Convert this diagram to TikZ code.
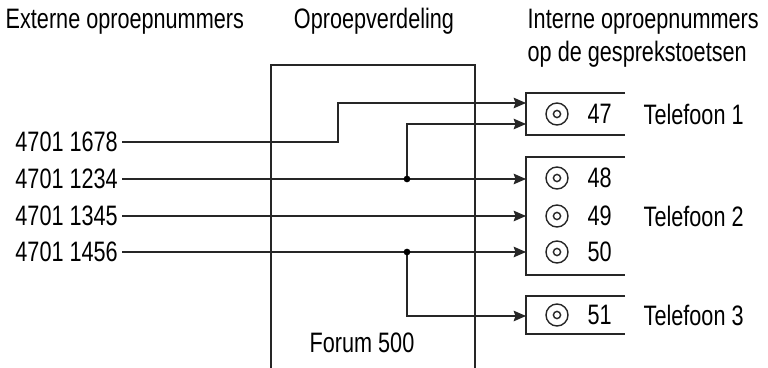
\documentclass[tikz,border=0pt]{standalone}
\usepackage{fontspec}
\setmainfont{Liberation Sans}[FakeStretch=0.77]
\usepackage{tikz}
\usetikzlibrary{arrows.meta}

\begin{document}
\begin{tikzpicture}[x=0.02cm, y=-0.02cm, >={Stealth[length=7pt, width=6pt, inset=1pt]},
  line width=0.8pt, draw=black!85, font=\fontsize{16}{19}\selectfont,
  nr/.style={anchor=east, inner sep=2pt},
  kop/.style={anchor=base west, inner sep=0pt, align=left},
  toets/.style={anchor=west, inner sep=0pt}]
  \useasboundingbox (0,0) rectangle (768,368);
  % koppen
  \node[kop] (hExt) at (5,29) {Externe oproepnummers};
  \node[kop, anchor=base] (hVerd) at (374,29) {Oproepverdeling};
  \node[kop] (hInt) at (527,62) {Interne oproepnummers\\op de gesprekstoetsen};
  % centrale Forum 500 (onderkant open)
  \draw (271,368) -- (271,65) -- (475,65) -- (475,368);
  \node (forum) at (362,343) {Forum 500};
  % externe nummers
  \node[nr] (n1678) at (122,142) {4701 1678};
  \node[nr] (n1234) at (122,179) {4701 1234};
  \node[nr] (n1345) at (122,216) {4701 1345};
  \node[nr] (n1456) at (122,252) {4701 1456};
  % toestellen (rechts open)
  \draw (625,93) -- (526,93) -- (526,135) -- (625,135);
  \draw (625,157) -- (526,157) -- (526,275) -- (625,275);
  \draw (625,296) -- (526,296) -- (526,334) -- (625,334);
  \foreach \k/\y in {47/114, 48/178, 49/216, 50/252, 51/315} {
    \draw (557,\y) circle (11);
    \draw (557,\y) circle (3.6);
    \node[toets] (t\k) at (587,\y) {\k};
  }
  \node[toets] (tel1) at (643,114) {Telefoon 1};
  \node[toets] (tel2) at (643,216) {Telefoon 2};
  \node[toets] (tel3) at (643,315) {Telefoon 3};
  % aansluitpunten
  \coordinate (k47a) at (526,103);
  \coordinate (k47b) at (526,124);
  \coordinate (k48) at (526,179);
  \coordinate (k49) at (526,216);
  \coordinate (k50) at (526,252);
  \coordinate (k51) at (526,316);
  \coordinate (bend1) at (338,103);
  \coordinate (j1) at (407,179);
  \coordinate (j2) at (407,252);
  % verdeling
  \draw[->] (n1678.east) -| (bend1) -- (k47a);
  \draw[->] (n1234.east) -- (k48);
  \draw[->] (j1) |- (k47b);
  \draw[->] (n1345.east) -- (k49);
  \draw[->] (n1456.east) -- (k50);
  \draw[->] (j2) |- (k51);
  \fill (j1) circle (1.9pt);
  \fill (j2) circle (1.9pt);
\end{tikzpicture}
\end{document}
